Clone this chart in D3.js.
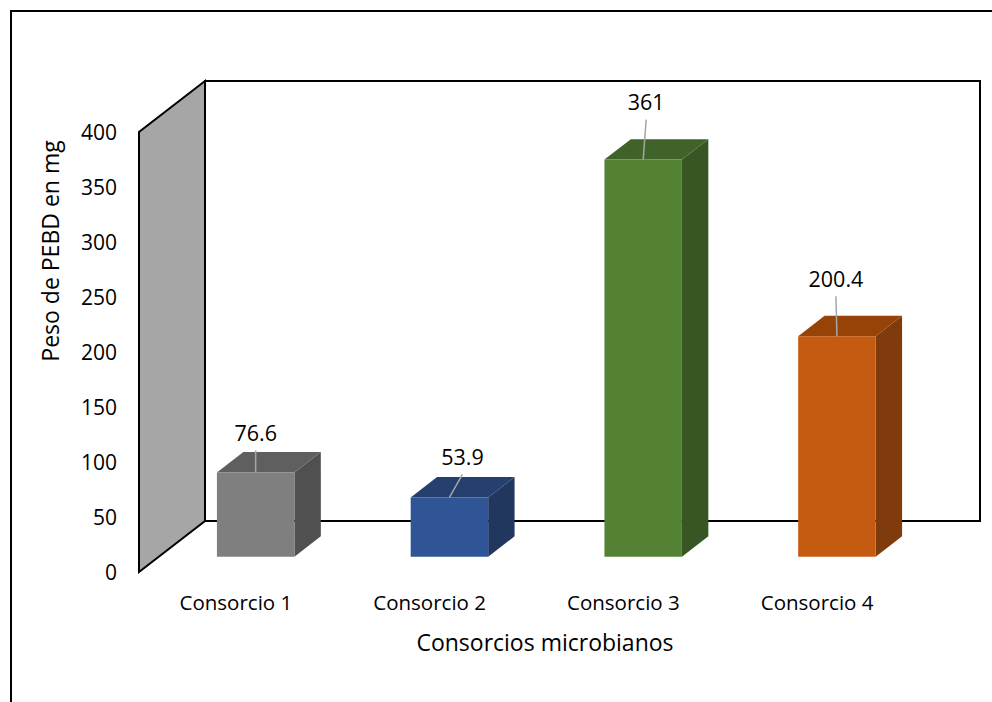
<!DOCTYPE html>
<html>
<head>
<meta charset="utf-8">
<script src="https://cdn.jsdelivr.net/npm/d3@7"></script>
<style>
  html, body { margin: 0; padding: 0; background: #ffffff; }
  svg { display: block; }
  text { font-family: "Open Sans", "Noto Sans", sans-serif; fill: #000; }
</style>
</head>
<body>
<svg id="chart" width="992" height="702"></svg>
<script>
// Categories and measured values
const categories = ["Consorcio 1", "Consorcio 2", "Consorcio 3", "Consorcio 4"];
const values = [76.6, 53.9, 361, 200.4];
const valueLabels = ["76.6", "53.9", "361", "200.4"];
const yTicks = [0, 50, 100, 150, 200, 250, 300, 350, 400];
const yTitle = "Peso de PEBD en mg";
const xTitle = "Consorcios microbianos";

// Face colours per bar: front, top, side
const frontColors = ["#7f7f7f", "#2f5597", "#548235", "#c55a11"];
const topColors   = ["#5f5f5f", "#253f6e", "#3f6329", "#974307"];
const sideColors  = ["#505050", "#22375f", "#375624", "#803b0c"];

// Data-label placement relative to the bar's top-front centre (dx, dy)
const labelOffsets = [[0, -39], [13, -40], [3, -57], [-1, -57]];

const svg = d3.select("#chart");

// Outer frame
svg.append("rect")
  .attr("x", 11).attr("y", 11).attr("width", 1100).attr("height", 1100)
  .attr("fill", "none").attr("stroke", "#000").attr("stroke-width", 2);

// 3-D projection: depth 0 = front plane, depth 1 = back wall
const DX = 66, DY = 51;
const x = d3.scaleBand().domain(categories).range([139, 914]);
const y = d3.scaleLinear().domain([0, 400]).range([572, 132]);
const P = (px, v, z) => [px + z * DX, y(v) - z * DY];

// Back wall
const back = svg.append("g");
back.append("rect")
  .attr("x", P(139, 400, 1)[0]).attr("y", P(139, 400, 1)[1])
  .attr("width", 914 - 139).attr("height", y(0) - y(400))
  .attr("fill", "#fff").attr("stroke", "#000").attr("stroke-width", 2);

// Left side wall
back.append("polygon")
  .attr("points", [P(139, 400, 1), P(139, 400, 0), P(139, 0, 0), P(139, 0, 1)].map(p => p.join(",")).join(" "))
  .attr("fill", "#a6a6a6").attr("stroke", "#000").attr("stroke-width", 2)
  .attr("stroke-linejoin", "miter");

// Y axis tick labels on the front plane
const yAxis = d3.axisLeft(y).tickValues(yTicks).tickSize(0).tickPadding(22).tickFormat(d3.format("d"));
const ya = svg.append("g").attr("transform", "translate(139,0)").call(yAxis);
ya.select(".domain").remove();
ya.selectAll("text")
  .style("font-family", "'Open Sans', 'Noto Sans', sans-serif")
  .style("font-size", "21px").attr("fill", "#000").attr("dy", "0.36em");

// Bars
const zFront = 0.3, zBack = 0.7;
const barW = x.bandwidth() * 0.4;
const bars = svg.append("g");
categories.forEach((c, i) => {
  const cx = x(c) + x.bandwidth() / 2;
  const x0 = cx - barW / 2, x1 = cx + barW / 2;
  const v = values[i];
  const pts = a => a.map(p => p.join(",")).join(" ");
  const fTL = P(x0, v, zFront), fTR = P(x1, v, zFront), fBR = P(x1, 0, zFront), fBL = P(x0, 0, zFront);
  const bTL = P(x0, v, zBack), bTR = P(x1, v, zBack), bBR = P(x1, 0, zBack);
  // side, top and front faces
  bars.append("polygon").attr("points", pts([fTR, bTR, bBR, fBR])).attr("fill", sideColors[i]);
  bars.append("polygon").attr("points", pts([fTL, bTL, bTR, fTR])).attr("fill", topColors[i]);
  bars.append("polygon").attr("points", pts([fTL, fTR, fBR, fBL])).attr("fill", frontColors[i]);

  // leader line and value label
  const anchor = P(cx, v, zFront);
  const lx = anchor[0] + labelOffsets[i][0], ly = anchor[1] + labelOffsets[i][1];
  bars.append("line")
    .attr("x1", lx).attr("y1", ly + 17)
    .attr("x2", anchor[0]).attr("y2", anchor[1])
    .attr("stroke", "#a6a6a6").attr("stroke-width", 1.5);
  bars.append("text")
    .attr("x", lx).attr("y", ly).attr("dy", "0.36em")
    .attr("text-anchor", "middle").style("font-size", "21.5px")
    .text(valueLabels[i]);
});

// Category labels on the front plane
svg.append("g").selectAll("text").data(categories).join("text")
  .attr("x", d => x(d) + x.bandwidth() / 2)
  .attr("y", 603).attr("dy", "0.36em")
  .attr("text-anchor", "middle").style("font-size", "20.5px")
  .text(d => d);

// Axis titles
svg.append("text")
  .attr("transform", "translate(51,251) rotate(-90)")
  .attr("text-anchor", "middle").attr("dy", "0.36em").style("font-size", "23px")
  .text(yTitle);
svg.append("text")
  .attr("x", 545).attr("y", 643).attr("dy", "0.36em")
  .attr("text-anchor", "middle").style("font-size", "23px")
  .text(xTitle);
</script>
</body>
</html>
